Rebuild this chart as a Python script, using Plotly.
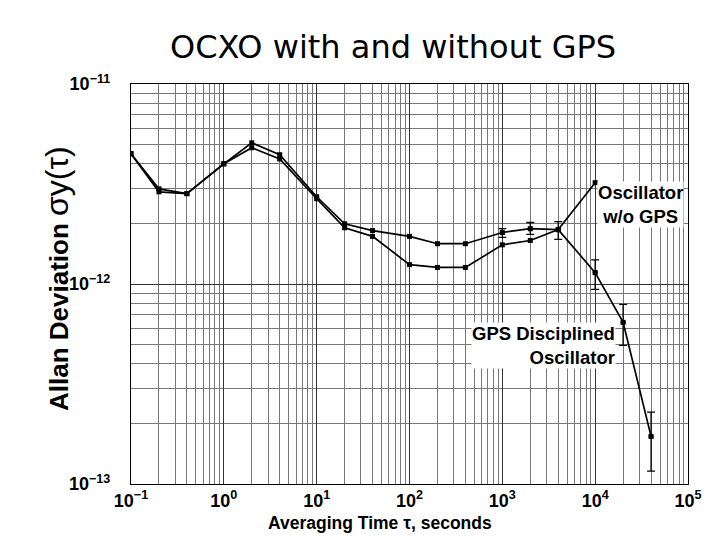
import plotly.graph_objects as go

# ---- data ----
tau = [0.1, 0.2, 0.4, 1, 2, 4, 10, 20, 40, 100, 200, 400, 1000, 2000, 4000, 10000, 20000, 40000]
gps_adev = [4.48e-12, 2.99e-12, 2.83e-12, 3.99e-12, 5.08e-12, 4.43e-12, 2.73e-12, 2.0e-12,
            1.85e-12, 1.73e-12, 1.59e-12, 1.59e-12, 1.81e-12, 1.89e-12, 1.87e-12,
            1.14e-12, 6.43e-13, 1.73e-13]
tau_free = [0.1, 0.2, 0.4, 1, 2, 4, 10, 20, 40, 100, 200, 400, 1000, 2000, 4000, 10000]
free_adev = [4.48e-12, 2.89e-12, 2.83e-12, 3.99e-12, 4.8e-12, 4.22e-12, 2.67e-12, 1.91e-12,
             1.73e-12, 1.25e-12, 1.21e-12, 1.21e-12, 1.57e-12, 1.65e-12, 1.87e-12, 3.21e-12]

err_tau = [1000, 2000, 4000, 10000, 20000, 40000]
err_val = [1.81e-12, 1.89e-12, 1.87e-12, 1.14e-12, 6.43e-13, 1.73e-13]
err_hi = [1.89e-12, 2.03e-12, 2.05e-12, 1.32e-12, 7.9e-13, 2.29e-13]
err_lo = [1.71e-12, 1.77e-12, 1.67e-12, 9.4e-13, 4.93e-13, 1.16e-13]

x_tickvals = [0.1, 1, 10, 100, 1000, 10000, 100000]
x_ticktext = ["<b>10<sup>−1</sup></b>", "<b>10<sup>0</sup></b>", "<b>10<sup>1</sup></b>",
              "<b>10<sup>2</sup></b>", "<b>10<sup>3</sup></b>", "<b>10<sup>4</sup></b>",
              "<b>10<sup>5</sup></b>"]
y_tickvals = [1e-13, 1e-12, 1e-11]
y_ticktext = ["<b>10<sup>−13</sup></b>", "<b>10<sup>−12</sup></b>", "<b>10<sup>−11</sup></b>"]

# page is rendered with an 8px body margin, so figure coords = page coords - 8
OFF = 8
L, R, T, B = 131 - OFF, 40, 84 - OFF, 64
W, H = 720, 540

fig = go.Figure()

fig.add_trace(go.Scatter(
    x=tau_free, y=free_adev, mode="lines+markers",
    line=dict(color="black", width=1.7),
    marker=dict(color="black", size=5, symbol="square"),
    showlegend=False))

fig.add_trace(go.Scatter(
    x=tau, y=gps_adev, mode="lines+markers",
    line=dict(color="black", width=1.7),
    marker=dict(color="black", size=5, symbol="square"),
    showlegend=False))

fig.add_trace(go.Scatter(
    x=err_tau, y=err_val, mode="markers",
    marker=dict(color="black", size=5, symbol="circle"),
    error_y=dict(type="data", symmetric=False,
                 array=[h - v for h, v in zip(err_hi, err_val)],
                 arrayminus=[v - l for v, l in zip(err_val, err_lo)],
                 color="black", thickness=1.3, width=4),
    showlegend=False))

font_b = "Liberation Sans"

fig.update_layout(
    width=W, height=H,
    margin=dict(l=L, r=R, t=T, b=B),
    paper_bgcolor="white", plot_bgcolor="white",
    title=dict(text="OCXO with and without GPS",
               font=dict(family="DejaVu Sans", size=32, color="black"),
               x=(393 - OFF) / W, xanchor="center", xref="container",
               y=1 - (47 - OFF) / H, yanchor="middle", yref="container"),
)

fig.update_xaxes(
    type="log", range=[-1, 5],
    tickvals=x_tickvals, ticktext=x_ticktext,
    tickfont=dict(family=font_b, size=18, color="black"),
    showgrid=True, gridcolor="#333333", gridwidth=1.4,
    minor=dict(showgrid=True, gridcolor="#777777", gridwidth=1, dtick="D1"),
    showline=True, linecolor="black", linewidth=1.2, mirror=True,
    ticks="", zeroline=False)

fig.update_yaxes(
    type="log", range=[-13, -11],
    tickvals=y_tickvals, ticktext=y_ticktext,
    tickfont=dict(family=font_b, size=18, color="black"),
    ticklabelstandoff=16,
    showgrid=True, gridcolor="#333333", gridwidth=1.4,
    minor=dict(showgrid=True, gridcolor="#777777", gridwidth=1, dtick="D1"),
    showline=True, linecolor="black", linewidth=1.2, mirror=True,
    ticks="", zeroline=False)


def add_px_annot(text, px, py, size, xanchor="center", angle=0, bg=None, align="center"):
    # px, py are page pixel coords
    pw, ph = W - L - R, H - T - B
    xp = (px - OFF - L) / pw
    yp = 1 - (py - OFF - T) / ph
    fig.add_annotation(text=text, x=xp, y=yp, xref="paper", yref="paper",
                       showarrow=False, xanchor=xanchor, yanchor="middle",
                       textangle=angle, align=align,
                       font=dict(family=font_b, size=size, color="black"),
                       bgcolor=bg, borderpad=0)


add_px_annot("<b>Averaging Time τ, seconds</b>", 380, 523, 17.5)
add_px_annot('<b>Allan Deviation</b> <span style="font-size:32px">σy(τ)</span>',
             57, 279, 26, angle=-90)
add_px_annot("<b>Oscillator<br>w/o GPS</b>", 640, 204, 18.5, bg="white")
add_px_annot("<b>GPS Disciplined<br>Oscillator</b>", 616, 345, 18.5, xanchor="right",
             bg="white", align="right")

fig.write_html("out.html")
